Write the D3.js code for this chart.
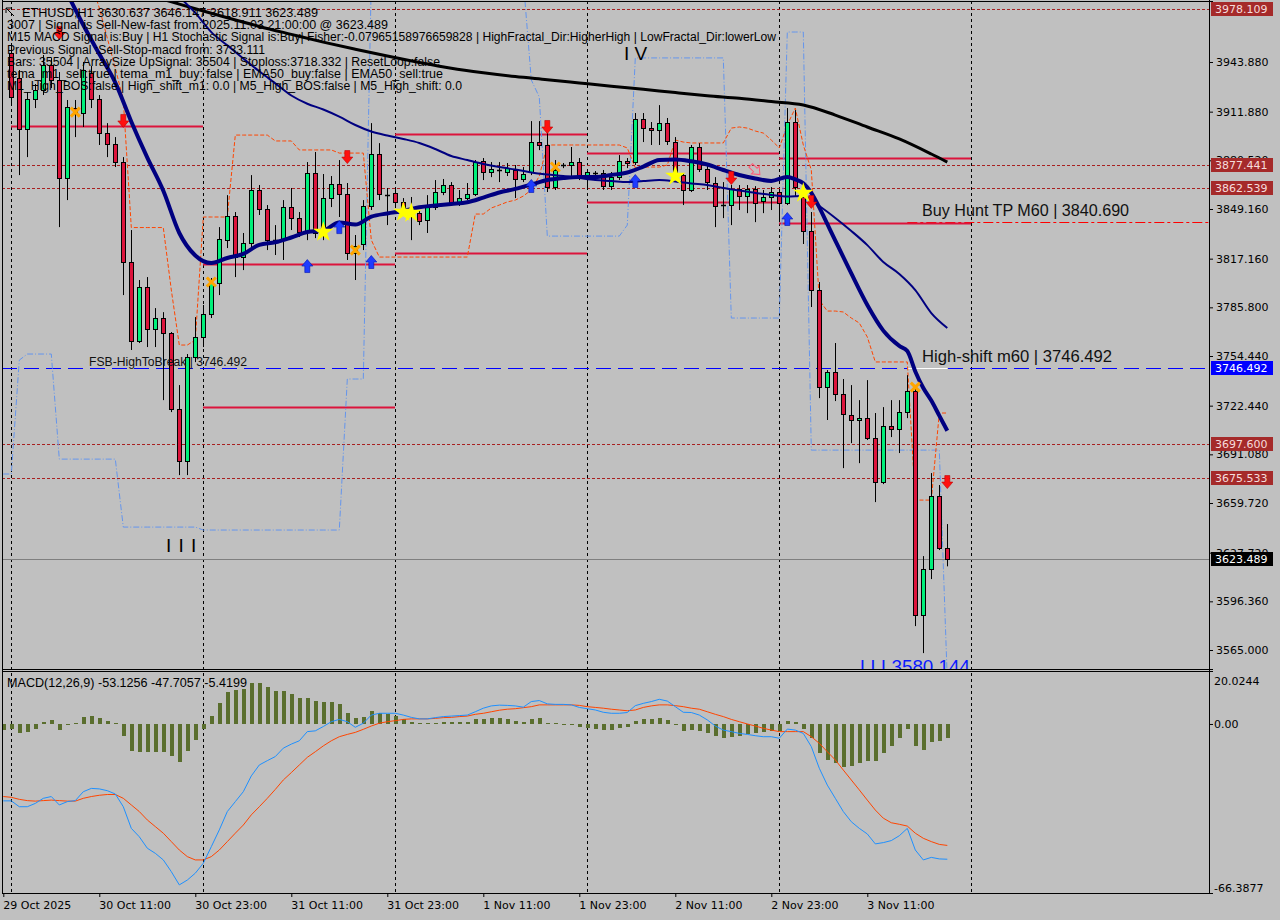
<!DOCTYPE html>
<html><head><meta charset="utf-8"><title>ETHUSD,H1</title>
<script src="https://cdn.jsdelivr.net/npm/d3@7/dist/d3.min.js"></script>
<style>
html,body{margin:0;padding:0;background:#c0c0c0;overflow:hidden}
svg{display:block}
</style></head>
<body>
<svg id="chart" width="1280" height="920"></svg>
<script>
// ================= DATA =================
const firstBarUTC = Date.UTC(2025, 9, 29, 23); // 29 Oct 2025 23:00, one bar per hour
const barCount = 119;

const open = [null,
3949.7,3933.6,3900.7,3920.0,3925.8,3941.9,3932.3,3869.1,3914.2,3911.0,
3936.8,3920.0,3898.1,3891.0,3879.4,3815.0,3764.1,3798.9,3771.8,3778.9,
3769.2,3720.2,3686.7,3753.7,3766.6,3781.5,3801.4,3829.1,3844.6,3818.2,
3827.2,3861.4,3849.1,3828.5,3829.1,3850.4,3843.3,3834.3,3872.3,3833.7,
3856.2,3865.2,3858.8,3820.8,3826.6,3851.1,3884.6,3858.8,3859.4,3853.6,
3849.8,3846.5,3842.0,3850.4,3860.1,3864.6,3853.0,3856.2,3858.8,3880.1,
3873.0,3873.6,3873.0,3874.3,3868.5,3873.0,3892.3,3890.4,3863.3,3876.8,
3877.5,3879.4,3871.0,3871.7,3872.3,3863.9,3869.7,3880.1,3879.4,3907.1,
3901.3,3900.0,3904.5,3892.3,3871.0,3861.4,3889.1,3874.9,3865.9,3851.1,
3851.7,3862.0,3857.5,3862.0,3854.3,3856.9,3860.1,3853.0,3905.2,3856.9,
3834.9,3796.9,3734.4,3744.1,3729.9,3716.4,3713.2,3714.4,3701.6,3673.2,
3709.3,3707.4,3718.3,3731.8,3587.5,3617.1,3664.2,3630.637];
const high = [null,
3954.8,3938.7,3924.5,3929.7,3948.4,3946.4,3937.4,3919.4,3919.4,3943.9,
3941.3,3922.6,3904.5,3895.5,3882.6,3835.6,3803.4,3805.3,3785.3,3782.7,
3769.9,3735.7,3755.7,3779.5,3787.3,3804.7,3837.5,3858.1,3847.2,3833.7,
3871.0,3864.6,3851.7,3838.8,3854.9,3862.7,3847.2,3879.4,3885.9,3871.7,
3870.4,3880.7,3865.9,3832.4,3854.9,3904.5,3891.6,3862.7,3861.4,3856.2,
3856.9,3848.5,3858.1,3867.8,3868.5,3866.5,3861.4,3865.9,3880.7,3882.0,
3879.4,3879.4,3878.8,3877.5,3876.2,3905.8,3905.8,3900.0,3880.7,3878.8,
3889.1,3882.0,3874.3,3873.6,3874.3,3873.0,3883.9,3882.0,3911.0,3911.0,
3905.2,3916.1,3907.8,3895.5,3872.3,3890.4,3891.6,3877.5,3869.7,3866.5,
3864.6,3864.6,3864.6,3863.9,3861.4,3863.3,3861.4,3914.2,3912.9,3861.4,
3847.2,3802.1,3745.4,3762.8,3739.6,3735.7,3726.0,3738.9,3717.7,3721.5,
3726.0,3726.0,3742.1,3734.4,3625.5,3679.0,3671.3,3646.147];
const low = [null,
3916.1,3871.0,3882.6,3914.2,3922.6,3927.1,3837.5,3854.9,3895.5,3902.0,
3914.2,3890.4,3882.6,3876.2,3793.7,3758.3,3762.8,3760.2,3760.2,3726.0,
3718.3,3677.7,3677.7,3750.5,3760.2,3778.9,3793.7,3824.0,3805.3,3809.8,
3824.0,3845.3,3822.7,3819.5,3816.3,3835.6,3831.1,3829.1,3830.4,3829.1,
3850.4,3844.0,3816.3,3803.4,3822.7,3848.5,3854.9,3838.8,3849.8,3845.3,
3829.1,3838.8,3833.7,3848.5,3858.1,3851.7,3851.1,3854.9,3857.5,3867.8,
3869.7,3866.5,3870.4,3856.2,3866.5,3871.0,3887.1,3860.1,3861.4,3875.5,
3869.7,3867.8,3861.4,3869.1,3861.4,3861.4,3867.8,3875.5,3877.5,3892.3,
3890.4,3890.4,3890.4,3868.5,3851.7,3860.1,3873.0,3861.4,3837.5,3843.3,
3838.8,3848.5,3846.5,3840.7,3846.5,3848.5,3840.7,3851.7,3856.9,3826.6,
3786.0,3727.3,3713.2,3725.4,3682.2,3698.3,3685.4,3700.3,3660.3,3671.9,
3702.2,3691.9,3714.4,3580.4,3563.0,3610.7,3629.4,3618.911];
const close = [null,
3921.3,3900.7,3920.0,3925.8,3941.9,3932.3,3869.1,3914.9,3910.4,3938.7,
3920.0,3898.1,3891.0,3879.4,3815.0,3764.1,3798.9,3771.8,3778.9,3769.2,
3720.2,3686.7,3753.7,3766.6,3781.5,3801.4,3829.8,3844.6,3818.2,3827.2,
3861.4,3849.1,3829.1,3829.1,3850.4,3843.3,3834.3,3872.3,3833.7,3856.2,
3865.2,3858.8,3820.8,3825.3,3851.1,3884.6,3858.8,3858.1,3853.6,3849.8,
3846.5,3841.4,3850.4,3860.1,3864.6,3853.0,3856.2,3858.8,3879.4,3873.0,
3874.9,3874.3,3875.5,3868.5,3871.7,3892.3,3890.4,3863.3,3874.3,3877.5,
3879.4,3869.7,3873.0,3872.3,3863.9,3869.7,3880.1,3878.8,3907.1,3901.3,
3900.0,3904.5,3892.9,3871.0,3861.4,3889.1,3874.9,3866.5,3851.1,3851.7,
3862.0,3857.5,3862.0,3853.0,3856.9,3860.1,3853.0,3905.2,3863.3,3834.9,
3796.9,3734.4,3744.1,3729.9,3717.0,3713.2,3714.4,3701.6,3673.2,3709.3,
3707.4,3718.3,3731.8,3587.5,3617.1,3664.2,3630.7,3623.489];

// moving averages: [bar, price]
const slowMA = [[16,3990.0],[20,3984.2],[24,3978.2],[28,3972.4],[32,3966.8],[36,3961.7],[40,3956.7],[44,3952.1],[48,3947.7],[52,3943.6],[56,3939.9],[60,3937.0],[64,3934.5],[68,3932.5],[72,3930.4],[76,3928.3],[80,3926.3],[84,3924.2],[88,3922.2],[92,3920.5],[96,3918.4],[100,3916.2],[104,3909.7],[108,3902.0],[112,3894.3],[116,3884.6],[118,3879.4]];
const ema50 = [[8,3988.0],[10,3967.7],[12,3949.0],[14,3930.6],[16,3905.4],[18,3882.3],[20,3860.9],[22,3833.7],[24,3819.2],[26,3814.3],[28,3817.6],[30,3820.2],[32,3826.1],[34,3827.7],[36,3830.8],[38,3834.3],[40,3835.3],[42,3840.5],[44,3839.1],[46,3844.2],[48,3846.3],[50,3847.9],[52,3850.3],[54,3851.4],[56,3852.4],[58,3853.5],[60,3856.5],[62,3859.8],[64,3862.1],[66,3864.9],[68,3867.8],[70,3869.1],[72,3869.8],[74,3869.8],[76,3871.1],[78,3872.7],[80,3876.5],[82,3880.7],[84,3881.1],[86,3879.9],[88,3877.8],[90,3874.3],[92,3871.1],[94,3868.8],[96,3867.2],[98,3869.8],[99,3868.3],[100,3865.7],[101,3859.6],[102,3850.2],[103,3839.5],[104,3828.8],[106,3807.6],[108,3787.3],[110,3770.8],[112,3760.9],[113,3757.6],[114,3744.5],[115,3733.8],[116,3725.7],[117,3716.0],[118,3706.3]];
const emaM60 = [[22,3985.8],[24,3975.5],[26,3963.1],[28,3954.6],[30,3946.1],[32,3937.9],[34,3930.1],[36,3922.3],[38,3917.0],[40,3913.3],[42,3908.7],[44,3903.3],[46,3899.1],[48,3896.5],[50,3894.3],[52,3891.7],[54,3887.8],[56,3883.3],[58,3880.7],[60,3878.2],[62,3876.2],[64,3874.6],[66,3872.7],[68,3871.4],[70,3870.4],[72,3869.1],[74,3867.8],[76,3867.2],[78,3866.5],[80,3867.2],[82,3867.8],[84,3866.9],[86,3865.6],[88,3864.6],[90,3862.7],[92,3861.1],[94,3859.5],[96,3858.2],[98,3857.2],[100,3857.5],[102,3851.1],[104,3843.4],[106,3835.0],[108,3825.9],[110,3815.0],[112,3807.3],[114,3796.9],[116,3782.1],[118,3772.5]];

// channel lines, one value per bar
const upperBand = [null,null,null,null,null,null,null,null,null,null,null,
3995.0,3978.7,3959.3,3940.0,3919.4,
3837.2,3837.2,3837.2,3837.2,3837.2,
3797.0,3761.5,3761.5,3764.7,
3844.0,3844.0,3844.0,3844.0,
3896.8,3896.8,3896.8,3896.8,3896.8,
3893.0,3893.0,3893.0,
3887.2,3887.2,3887.2,3887.2,3887.2,
3885.2,3885.2,3885.2,3885.2,
3829.2,
3818.2,3818.2,3818.2,3818.2,3818.2,3818.2,3818.2,3818.2,3818.2,3818.2,3818.2,3818.2,
3845.9,3845.9,3849.8,3851.7,3853.7,3854.9,3857.5,3861.4,3870.4,
3890.4,3890.4,3890.4,3890.4,3890.4,3890.4,3890.4,3890.4,3890.4,3890.4,
3888.5,3875.6,3876.2,3876.2,3876.2,3877.5,3893.6,3892.3,
3891.7,3891.7,3891.7,3891.7,3891.7,
3901.3,3902.0,3901.3,3899.4,3898.1,3893.6,3888.5,3903.3,3914.2,3890.4,3874.3,3790.5,3783.4,3783.4,3782.8,3778.9,3775.7,3766.7,
3750.6,3750.6,3750.6,3750.6,3750.6,
3661.6,3661.6,3661.6,
3717.7,3717.7];
const lowerBand = [3678.4,3678.4,3751.8,3755.7,3755.7,3755.7,3755.7,
3688.0,3688.0,3688.0,3688.0,3688.0,3688.0,3688.0,3688.0,
3644.2,3644.2,3644.2,3644.2,3644.2,3644.2,3644.2,3644.2,3644.2,3644.2,
3642.3,3642.3,3642.3,3642.3,3642.3,3642.3,3642.3,3642.3,3642.3,3642.3,3642.3,3642.3,3642.3,3642.3,3642.3,3642.3,3642.3,3642.3,
3739.6,3739.6,3739.6,
3996.7,3996.7,3996.7,3996.7,3996.7,3996.7,3996.7,3996.7,3996.7,3996.7,3996.7,3996.7,3996.7,3996.7,3996.7,3996.7,3996.7,3996.7,3996.7,3996.7,
3932.3,3921.3,
3831.7,3831.7,3831.7,3831.7,3831.7,3831.7,3831.7,3831.7,3831.7,3831.7,
3838.8,
3946.5,3946.5,3946.5,3946.5,3946.5,3946.5,3946.5,3946.5,3946.5,3946.5,3946.5,3946.5,
3778.9,3778.9,3778.9,3778.9,3778.9,3778.9,3778.9,
3963.2,3963.2,3963.2,
3693.8,3693.8,3693.8,3693.8,3693.8,3693.8,3693.8,3693.8,3693.8,3693.8,3693.8,3693.8,3693.8,3693.8,3693.8,3693.8,3693.8,
3545.6];

// daily levels (solid red), from bar to bar
const dayLevelFrom  = [1, 25, 25, 49, 49, 73, 73, 97, 97];
const dayLevelTo    = [25, 49, 49, 73, 73, 97, 97, 121, 121];
const dayLevelPrice = [3902.6, 3813.7, 3721.6, 3897.5, 3820.8, 3885.2, 3853.6, 3882.0, 3840.1];

// dotted horizontal levels with axis tags
const dottedLevels = [3978.109, 3877.441, 3862.539, 3697.600, 3675.533];
const highShiftPrice = 3746.492;
const buyHuntTP = 3840.690;
const lastPrice = 3623.489;

// signals
const sellBars = [7, 15, 43, 68, 91, 101, 118];
const sellPrices = [3962.6, 3905.9, 3882.6, 3902.0, 3869.1, 3853.7, 3673.2];
const buyBars = [38, 42, 46, 66, 79, 98];
const buyPrices = [3812.4, 3837.5, 3815.0, 3864.0, 3867.2, 3842.7];
const starBars = [40, 50, 51, 84, 100];
const starPrices = [3834.3, 3847.2, 3846.6, 3870.4, 3859.5];
const crossBars = [9, 26, 44, 69, 114];
const crossPrices = [3911.6, 3802.1, 3822.7, 3876.2, 3734.4];
const hollowArrowBars = [94];
const hollowArrowPrices = [3874.3];

// MACD(12,26,9)
const macdMain = [-30.2,-30.2,-32.5,-32.5,-31.2,-29.2,-28.5,-31.8,-30.5,-30.1,
-26.6,-25.3,-25.5,-26.2,-27.5,-32.5,-41.0,-44.3,-48.8,-50.8,
-53.4,-58.0,-63.2,-61.3,-58.6,-54.7,-48.2,-41.6,-34.4,-30.5,
-26.6,-20.4,-16.1,-14.4,-12.8,-9.5,-7.9,-6.6,-3.0,-2.7,
-1.0,0.9,1.8,0.9,-1.3,0.3,3.5,4.2,4.2,4.2,
3.5,2.6,2.0,2.0,2.5,2.9,3.1,3.3,3.5,4.8,
6.2,7.1,7.4,7.3,7.1,6.6,8.8,9.2,7.9,7.7,
7.7,7.5,6.5,6.0,5.5,4.6,4.2,4.2,4.5,7.2,
8.1,8.8,9.7,9.0,6.8,4.6,4.5,3.5,1.6,-0.8,
-2.4,-3.0,-3.7,-4.1,-4.6,-5.0,-5.0,-5.6,-2.0,-2.4,
-3.7,-8.9,-17.4,-24.0,-29.2,-34.4,-38.4,-41.0,-43.2,-47.1,
-46.6,-45.8,-43.9,-41.0,-49.5,-53.4,-52.4,-53.0,-53.1256];
const macdSignal = [-28.5,-28.8,-29.6,-30.1,-30.3,-30.1,-29.9,-30.1,-30.3,-30.3,
-29.2,-28.5,-28.0,-27.7,-27.7,-29.2,-31.8,-34.4,-37.7,-40.3,
-42.9,-46.2,-49.5,-52.1,-53.4,-53.4,-52.1,-49.5,-46.2,-42.9,
-39.7,-35.7,-32.5,-29.2,-25.7,-22.0,-19.1,-16.1,-13.1,-10.9,
-8.6,-6.6,-5.0,-4.1,-3.3,-2.1,-0.8,0.3,0.9,1.3,
1.8,2.0,2.0,2.0,2.2,2.5,2.6,2.9,3.1,3.8,
4.2,4.8,5.4,5.8,6.0,6.4,6.8,7.5,7.5,7.5,
7.5,7.5,7.3,6.8,6.5,6.2,5.8,5.5,5.2,5.5,
6.5,7.1,7.5,7.5,7.2,6.8,6.2,5.8,4.8,3.8,
2.9,1.8,0.9,0.0,-0.8,-1.7,-2.4,-3.0,-3.0,-3.0,
-3.0,-5.0,-7.6,-10.9,-14.1,-18.1,-22.0,-25.9,-29.9,-33.8,
-37.0,-38.8,-39.4,-40.1,-42.9,-44.9,-46.2,-47.3,-47.7057];
const macdHist = [-2.4,-2.1,-3.4,-3.0,-1.8,0.8,1.6,-2.4,-0.5,0.4,
2.9,3.1,2.5,1.2,0.3,-4.6,-10.6,-10.9,-10.9,-10.9,
-11.0,-12.6,-14.9,-10.5,-6.3,-2.0,3.3,8.1,12.6,13.2,
13.7,16.2,16.0,14.5,13.0,13.0,11.8,10.2,10.2,9.0,
8.6,8.6,7.9,4.5,2.4,2.7,5.1,4.2,3.8,3.0,
2.0,0.9,0.3,0.3,0.5,0.9,0.9,0.9,0.9,2.0,
2.0,2.2,2.2,1.8,1.2,0.7,1.8,2.4,0.3,0.2,
0.1,0.1,-1.0,-1.7,-2.0,-2.4,-2.4,-1.4,-1.0,1.3,
2.0,2.0,2.4,1.6,-0.5,-2.6,-2.4,-2.6,-3.4,-4.6,
-5.4,-5.0,-4.6,-3.9,-3.7,-3.3,-2.6,-2.6,1.2,0.7,
-2.0,-5.4,-11.5,-14.1,-15.4,-16.8,-16.4,-15.2,-14.4,-14.4,
-11.3,-8.5,-5.4,-2.0,-8.5,-10.2,-6.9,-6.5,-5.4199];

// axis ticks
const priceTicks = [3943.880,3911.880,3880.520,3849.160,3817.160,3785.800,3754.440,3722.440,3691.080,3659.720,3627.720,3596.360,3565.000];
const macdTicks = [20.0244, 0, -66.3877];
const macdTickLabels = ["20.0244", "0.00", "-66.3877"];
const timeTickBars = [0, 12, 24, 36, 48, 60, 72, 84, 96, 108];
const timeTickLabels = ["29 Oct 2025","30 Oct 11:00","30 Oct 23:00","31 Oct 11:00","31 Oct 23:00","1 Nov 11:00","1 Nov 23:00","2 Nov 11:00","2 Nov 23:00","3 Nov 11:00"];
const daySeparatorBars = [1, 25, 49, 73, 97, 121];

const infoLines = [
 "ETHUSD,H1  3630.637 3646.147 3618.911 3623.489",
 "3007 | Signal is Sell-New-fast from:2025.11.03 21:00:00 @ 3623.489",
 "M15 MACD Signal is:Buy | H1 Stochastic Signal is:Buy| Fisher:-0.07965158976659828 | HighFractal_Dir:HigherHigh | LowFractal_Dir:lowerLow",
 "Previous Signal :Sell-Stop-macd from: 3733.111",
 "Bars: 35504 | ArraySize UpSignal: 35504 | Stoploss:3718.332 | ResetLoop:false",
 "tema_m1_sell:true | tema_m1_buy: false | EMA50_buy:false | EMA50_sell:true",
 "M1_High_BOS:false | High_shift_m1: 0.0 | M5_High_BOS:false | M5_High_shift: 0.0"
];
const macdTitle = "MACD(12,26,9) -53.1256 -47.7057 -5.4199";

// ================= LAYOUT / STYLE =================
const W = 1280, H = 920;
const plotL = 2, plotR = 1209, mainT = 1, mainB = 669, macdT = 673, macdB = 893;
const infoX = [22, 7, 7, 7, 7, 7, 7];
const infoW = [296, 381, 769, 258, 433, 436, 455];
const FONT = "DejaVu Sans, sans-serif";
const FONT2 = "Liberation Sans, Arial, sans-serif";

const barTime = i => new Date(firstBarUTC + i * 3600e3);
const x = d3.scaleTime().domain([barTime(0), barTime(150)]).range([3.3, 3.3 + 8 * 150]);
const y = d3.scaleLinear().domain([3565, 3943.88]).range([650, 62]);
const ym = d3.scaleLinear().domain([-66.3877, 20.0244]).range([macdB, macdT]);
const bx = i => x(barTime(i));
const px = i => Math.round(bx(i));

const svg = d3.select("#chart");
svg.append("rect").attr("width", W).attr("height", H).attr("fill", "#c0c0c0");
const defs = svg.append("defs");
defs.append("clipPath").attr("id", "cm").append("rect").attr("x", plotL + 1).attr("y", mainT + 1).attr("width", plotR - plotL - 1).attr("height", mainB - mainT - 1);
defs.append("clipPath").attr("id", "cd").append("rect").attr("x", plotL + 1).attr("y", macdT - 1).attr("width", plotR - plotL - 1).attr("height", macdB - macdT + 1);

const gm = svg.append("g").attr("clip-path", "url(#cm)");
const gd = svg.append("g").attr("clip-path", "url(#cd)");

// day separators
[gm, gd].forEach((g, k) => {
  g.selectAll("line.sep").data(daySeparatorBars).join("line")
    .attr("x1", d => px(d) + 0.5).attr("x2", d => px(d) + 0.5)
    .attr("y1", k ? macdT : mainT).attr("y2", k ? macdB : mainB)
    .attr("stroke", "#000").attr("stroke-dasharray", "3,3").attr("stroke-width", 1);
});

// dotted levels
gm.selectAll("line.dl").data(dottedLevels).join("line")
  .attr("x1", plotL).attr("x2", plotR)
  .attr("y1", d => Math.round(y(d)) + 0.5).attr("y2", d => Math.round(y(d)) + 0.5)
  .attr("stroke", "#a82020").attr("stroke-dasharray", "3,2");

// current price line
gm.append("line").attr("x1", plotL).attr("x2", plotR)
  .attr("y1", Math.round(y(lastPrice)) + 0.5).attr("y2", Math.round(y(lastPrice)) + 0.5)
  .attr("stroke", "#7f7f7f");

// high-shift blue dashed
gm.append("line").attr("x1", plotL).attr("x2", plotR)
  .attr("y1", Math.round(y(highShiftPrice)) + 0.5).attr("y2", Math.round(y(highShiftPrice)) + 0.5)
  .attr("stroke", "#0000ff").attr("stroke-dasharray", "15,7");
gm.append("line").attr("x1", bx(113)).attr("x2", bx(118))
  .attr("y1", Math.round(y(highShiftPrice)) + 0.5).attr("y2", Math.round(y(highShiftPrice)) + 0.5)
  .attr("stroke", "#ffffff");

// buy hunt TP dash-dot
gm.append("line").attr("x1", bx(113)).attr("x2", plotR)
  .attr("y1", Math.round(y(buyHuntTP)) + 0.5).attr("y2", Math.round(y(buyHuntTP)) + 0.5)
  .attr("stroke", "#ff0000").attr("stroke-dasharray", "10,3,3,3");

// daily red levels
gm.selectAll("line.day").data(dayLevelPrice).join("line")
  .attr("x1", (d, i) => px(dayLevelFrom[i])).attr("x2", (d, i) => px(dayLevelTo[i]))
  .attr("y1", d => Math.round(y(d)) + 0.5).attr("y2", d => Math.round(y(d)) + 0.5)
  .attr("stroke", "#dc143c").attr("stroke-width", 2);

// channel lines
const idxLine = d3.line().defined(d => d[1] != null).x(d => bx(d[0])).y(d => y(d[1]));
gm.append("path").attr("d", idxLine(lowerBand.map((v, i) => [i, v])))
  .attr("fill", "none").attr("stroke", "#6495ed").attr("stroke-dasharray", "6,2,1,2");
gm.append("path").attr("d", idxLine(upperBand.map((v, i) => [i, v])))
  .attr("fill", "none").attr("stroke", "#ff4500").attr("stroke-dasharray", "4,2");

// candles
const bars = d3.range(barCount).filter(i => open[i] != null);
const cg = gm.append("g");
cg.selectAll("line.wick").data(bars).join("line")
  .attr("x1", i => px(i) + 0.5).attr("x2", i => px(i) + 0.5)
  .attr("y1", i => y(high[i])).attr("y2", i => y(low[i]))
  .attr("stroke", "#000");
cg.selectAll("rect.body").data(bars.filter(i => Math.abs(y(open[i]) - y(close[i])) >= 1.5)).join("rect")
  .attr("x", i => px(i) - 1.5).attr("width", 4)
  .attr("y", i => Math.round(Math.min(y(open[i]), y(close[i]))) + 0.5)
  .attr("height", i => Math.max(1, Math.round(Math.abs(y(open[i]) - y(close[i])))))
  .attr("fill", i => close[i] >= open[i] ? "#00f07a" : "#dc143c")
  .attr("stroke", "#000").attr("stroke-width", 1);
cg.selectAll("line.doji").data(bars.filter(i => Math.abs(y(open[i]) - y(close[i])) < 1.5)).join("line")
  .attr("x1", i => px(i) - 2).attr("x2", i => px(i) + 3)
  .attr("y1", i => Math.round(y(close[i])) + 0.5).attr("y2", i => Math.round(y(close[i])) + 0.5)
  .attr("stroke", "#000").attr("stroke-width", 1.5);

// moving averages
const pairLine = d3.line().x(d => bx(d[0])).y(d => y(d[1])).curve(d3.curveMonotoneX);
gm.append("path").attr("d", pairLine(slowMA)).attr("fill", "none").attr("stroke", "#000").attr("stroke-width", 3);
gm.append("path").attr("d", pairLine(emaM60)).attr("fill", "none").attr("stroke", "#000080").attr("stroke-width", 2);
gm.append("path").attr("d", pairLine(ema50)).attr("fill", "none").attr("stroke", "#000080").attr("stroke-width", 4);

// markers
const downArrow = "M-2.5,-6.5L2.5,-6.5L2.5,0L5.5,0L0,6.5L-5.5,0L-2.5,0Z";
const upArrow = "M-2.5,6.5L2.5,6.5L2.5,0L5.5,0L0,-6.5L-5.5,0L-2.5,0Z";
gm.selectAll("path.sell").data(sellBars).join("path")
  .attr("d", downArrow).attr("transform", (d, i) => `translate(${bx(d)},${y(sellPrices[i])})`)
  .attr("fill", "#ff1010").attr("stroke", "#c00000").attr("stroke-width", 0.6);
gm.selectAll("path.buy").data(buyBars).join("path")
  .attr("d", upArrow).attr("transform", (d, i) => `translate(${bx(d)},${y(buyPrices[i])})`)
  .attr("fill", "#1e3cff").attr("stroke", "#0010b0").attr("stroke-width", 0.6);
gm.selectAll("path.hollow").data(hollowArrowBars).join("path")
  .attr("d", downArrow).attr("transform", (d, i) => `translate(${bx(d)},${y(hollowArrowPrices[i])}) rotate(-45)`)
  .attr("fill", "none").attr("stroke", "#ff5a78").attr("stroke-width", 1);
gm.selectAll("path.star").data(starBars).join("path")
  .attr("d", d3.symbol(d3.symbolStar, 130)).attr("transform", (d, i) => `translate(${bx(d)},${y(starPrices[i])})`)
  .attr("fill", "#ffff00");
const cr = gm.selectAll("g.cross").data(crossBars).join("g")
  .attr("transform", (d, i) => `translate(${bx(d)},${y(crossPrices[i])})`);
cr.append("path").attr("d", "M-4.5,-4.5L4.5,4.5M4.5,-4.5L-4.5,4.5").attr("stroke", "#ffa500").attr("stroke-width", 3);

// chart texts
const txt = (g, s, xx, yy, size, fill, fam, extra) => {
  const t = g.append("text").attr("x", xx).attr("y", yy).attr("font-size", size).attr("fill", fill || "#000")
    .attr("font-family", fam || FONT2).text(s);
  if (extra) Object.entries(extra).forEach(([k, v]) => t.attr(k, v));
  return t;
};
txt(gm, "FSB-HighToBreak | 3746.492", 89, y(highShiftPrice) - 2, 12.5, "#111", FONT2, {textLength: 158, lengthAdjust: "spacingAndGlyphs"});
txt(gm, "High-shift m60 | 3746.492", bx(114.85), y(highShiftPrice) - 6, 16, "#111", FONT2, {textLength: 190, lengthAdjust: "spacingAndGlyphs"});
txt(gm, "Buy Hunt TP M60 | 3840.690", bx(114.85), y(buyHuntTP) - 6, 16, "#111", FONT2, {textLength: 207, lengthAdjust: "spacingAndGlyphs"});
txt(gm, "I I I", 166, 552, 19, "#000", FONT2, {"letter-spacing": "1px"});
txt(gm, "I V", 624, 60, 19, "#000", FONT2);
txt(gm, "LLL3580.144", 860, 673, 19, "#0a1aff", FONT2, {textLength: 110, lengthAdjust: "spacingAndGlyphs"});

infoLines.forEach((s, k) => {
  txt(svg, s, infoX[k], 17 + k * 12.2, 12, "#000", FONT2, {textLength: infoW[k], lengthAdjust: "spacingAndGlyphs"});
});
// small corner icon
svg.append("path").attr("d", "M6,8L14,16M6,8L6,13M6,8L11,8").attr("stroke", "#000").attr("fill", "none");

// MACD panel
gd.selectAll("rect.h").data(macdHist).join("rect")
  .attr("x", (d, i) => px(i) - 1).attr("width", 4)
  .attr("y", d => Math.round(Math.min(ym(d), ym(0))))
  .attr("height", d => Math.max(1, Math.round(Math.abs(ym(d) - ym(0)))))
  .attr("fill", "#5a6e2e");
const mLine = d3.line().x((d, i) => bx(i)).y(d => ym(d));
gd.append("path").attr("d", mLine(macdSignal)).attr("fill", "none").attr("stroke", "#ff4500").attr("stroke-width", 1);
gd.append("path").attr("d", mLine(macdMain)).attr("fill", "none").attr("stroke", "#1e90ff").attr("stroke-width", 1);
txt(svg, macdTitle, 7, 687, 12, "#000", FONT2, {textLength: 240, lengthAdjust: "spacingAndGlyphs"});

// axes
const xAxis = d3.axisBottom(x).tickValues(timeTickBars.map(barTime))
  .tickFormat((d, i) => timeTickLabels[i]).tickSize(4).tickPadding(4);
const gx = svg.append("g").attr("transform", `translate(0,${macdB})`).call(xAxis);
gx.select(".domain").remove();
gx.selectAll("text").attr("text-anchor", "start").attr("font-family", FONT).attr("font-size", 11).attr("fill", "#000").attr("dx", "-0.5");

const yAxis = d3.axisRight(y).tickValues(priceTicks).tickFormat(d3.format(".3f")).tickSize(4).tickPadding(3);
const gy = svg.append("g").attr("transform", `translate(${plotR},0)`).call(yAxis);
gy.select(".domain").remove();
gy.selectAll("text").attr("font-family", FONT).attr("font-size", 11).attr("fill", "#000");

const mAxis = d3.axisRight(ym).tickValues(macdTicks).tickFormat((d, i) => macdTickLabels[i]).tickSize(4).tickPadding(1);
const gma = svg.append("g").attr("transform", `translate(${plotR},0)`).call(mAxis);
gma.select(".domain").remove();
gma.selectAll("text").attr("font-family", FONT).attr("font-size", 11).attr("fill", "#000")
  .attr("dy", (d, i) => i === 0 ? "1.05em" : i === 2 ? "-0.1em" : "0.32em");
gma.selectAll("line").attr("opacity", (d, i) => i === 1 ? 1 : 0);

// axis price tags
const tags = dottedLevels.map(p => ({p, bg: "#a52a2a", fg: "#f6dcdc"}))
  .concat([{p: highShiftPrice, bg: "#0000ff", fg: "#ffffff"}, {p: lastPrice, bg: "#000000", fg: "#ffffff"}]);
const tg = svg.append("g");
tg.selectAll("rect").data(tags).join("rect")
  .attr("x", plotR + 2).attr("width", 62).attr("y", d => Math.round(y(d.p)) - 7).attr("height", 14)
  .attr("fill", d => d.bg);
tg.selectAll("text").data(tags).join("text")
  .attr("x", plotR + 6).attr("y", d => y(d.p)).attr("dy", "0.35em")
  .attr("font-family", FONT).attr("font-size", 11).attr("fill", d => d.fg)
  .text(d => d3.format(".3f")(d.p));

// frames
const fr = svg.append("g").attr("stroke", "#000").attr("fill", "none").attr("shape-rendering", "crispEdges");
fr.append("line").attr("x1", plotL + 0.5).attr("x2", plotL + 0.5).attr("y1", 0).attr("y2", macdB + 0.5);
fr.append("line").attr("x1", plotR + 0.5).attr("x2", plotR + 0.5).attr("y1", 0).attr("y2", macdB + 0.5);
fr.append("line").attr("x1", plotL).attr("x2", plotR + 4).attr("y1", mainT + 0.5).attr("y2", mainT + 0.5);
fr.append("line").attr("x1", plotL).attr("x2", plotR + 4).attr("y1", mainB + 0.5).attr("y2", mainB + 0.5);
fr.append("line").attr("x1", plotL).attr("x2", plotR + 4).attr("y1", macdT - 1.5).attr("y2", macdT - 1.5);
fr.append("line").attr("x1", plotL).attr("x2", plotR + 4).attr("y1", macdB + 0.5).attr("y2", macdB + 0.5);
</script>
</body></html>
